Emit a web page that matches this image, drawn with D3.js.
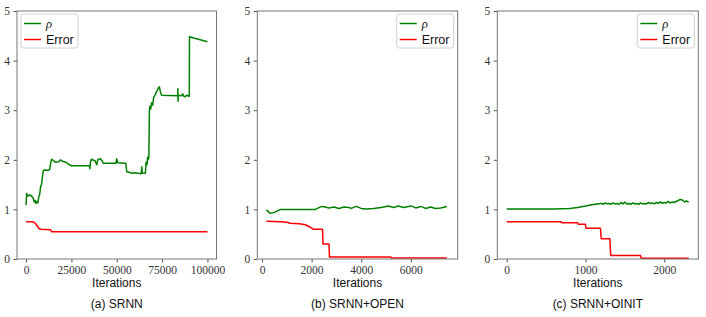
<!DOCTYPE html>
<html>
<head>
<meta charset="utf-8">
<script src="https://cdn.jsdelivr.net/npm/d3@7"></script>
<style>
  body { margin: 0; background: #fff; }
  .lbl { font-family: "Liberation Sans", Arial, sans-serif; font-size: 12px; fill: #111; }
</style>
</head>
<body>
<svg id="chart" width="706" height="317"></svg>
<script>
// (a) SRNN
const rhoA = [
  [0, 1.09], [300, 1.32], [1000, 1.27], [2000, 1.29], [3000, 1.27], [4000, 1.22], [4500, 1.15],
  [5000, 1.18], [5500, 1.12], [6000, 1.16], [6500, 1.13], [7000, 1.25], [7500, 1.3], [8000, 1.45],
  [8500, 1.5], [9000, 1.65], [9500, 1.78], [10000, 1.8], [11000, 1.79], [12000, 1.79], [13000, 1.8],
  [13500, 1.92], [14000, 2.01], [15000, 1.99], [16000, 1.95], [18000, 1.96], [19000, 2.0],
  [20000, 1.97], [22000, 1.95], [24000, 1.9], [25000, 1.88], [35000, 1.88], [35200, 1.82],
  [35500, 1.95], [36000, 2.01], [38000, 1.98], [39000, 1.9], [39500, 2.0], [41000, 2.02],
  [42000, 1.97], [42500, 1.93], [44000, 1.93], [49500, 1.93], [50000, 2.02], [50500, 1.94],
  [55000, 1.93], [55500, 1.76], [57000, 1.75], [58000, 1.73], [60000, 1.74], [63500, 1.72],
  [63800, 1.86], [64100, 1.73], [65800, 1.73], [66200, 1.95], [66700, 1.9], [67000, 2.05],
  [67300, 2.0], [67700, 2.05], [68000, 3.0], [68300, 3.08], [68700, 3.02], [69200, 3.15],
  [69800, 3.1], [70300, 3.25], [71000, 3.3], [72000, 3.38], [73000, 3.45], [73500, 3.47],
  [74200, 3.35], [74800, 3.3], [83600, 3.29], [83700, 3.43], [83800, 3.18], [83900, 3.3],
  [86000, 3.29], [86400, 3.33], [87000, 3.28], [87700, 3.27], [88500, 3.3], [90000, 3.28],
  [90100, 4.48], [93000, 4.45], [100000, 4.38]
];
const errA = [
  [0, 0.75], [4000, 0.75], [5000, 0.72], [5500, 0.7], [7000, 0.62], [8000, 0.6], [13500, 0.59],
  [14000, 0.55], [100000, 0.55]
];

// (b) SRNN+OPEN
const rhoB = [
  [175, 0.99], [335, 0.92], [500, 0.94], [740, 1.0], [1500, 1.0], [2150, 1.0], [2400, 1.06],
  [2550, 1.05], [2700, 1.03], [2900, 1.05], [3100, 1.02], [3300, 1.05], [3500, 1.04], [3600, 1.02],
  [3800, 1.06], [4000, 1.02], [4200, 1.01], [4500, 1.02], [4800, 1.04], [5100, 1.07], [5300, 1.04],
  [5500, 1.07], [5700, 1.04], [6000, 1.07], [6200, 1.03], [6400, 1.06], [6600, 1.02], [6800, 1.05],
  [7000, 1.02], [7200, 1.03], [7450, 1.06]
];
const errB = [
  [175, 0.76], [740, 0.75], [1000, 0.74], [1140, 0.72], [1500, 0.71], [1750, 0.69], [1950, 0.64],
  [2070, 0.6], [2440, 0.6], [2460, 0.3], [2700, 0.3], [2720, 0.04], [5200, 0.04], [5220, 0.02],
  [7450, 0.02]
];

// (c) SRNN+OINIT
const rhoC = [
  [0, 1.01], [300, 1.01], [600, 1.01], [800, 1.02], [900, 1.04], [1000, 1.07], [1100, 1.1],
  [1150, 1.11], [1200, 1.12], [1225, 1.1], [1250, 1.13], [1275, 1.11], [1300, 1.12], [1325, 1.1],
  [1350, 1.13], [1375, 1.11], [1400, 1.12], [1425, 1.1], [1450, 1.14], [1475, 1.11], [1500, 1.15],
  [1525, 1.11], [1550, 1.12], [1575, 1.1], [1600, 1.13], [1625, 1.11], [1650, 1.12], [1675, 1.1],
  [1700, 1.13], [1725, 1.11], [1750, 1.12], [1775, 1.11], [1800, 1.14], [1825, 1.12], [1850, 1.13],
  [1875, 1.11], [1900, 1.14], [1925, 1.12], [1950, 1.15], [1975, 1.12], [2000, 1.14], [2025, 1.13],
  [2050, 1.16], [2075, 1.13], [2100, 1.15], [2125, 1.14], [2150, 1.16], [2180, 1.18], [2200, 1.2],
  [2230, 1.19], [2260, 1.15], [2280, 1.17], [2310, 1.15]
];
const errC = [
  [0, 0.75], [690, 0.75], [700, 0.73], [900, 0.73], [910, 0.7], [1000, 0.7], [1005, 0.62],
  [1190, 0.62], [1200, 0.41], [1310, 0.41], [1320, 0.07], [1700, 0.07], [1705, 0.015],
  [2310, 0.015]
];

const xTicksA = [0, 25000, 50000, 75000, 100000];
const xTicksB = [0, 2000, 4000, 6000];
const xTicksC = [0, 1000, 2000];
const yTicks = [0, 1, 2, 3, 4, 5];
const captions = ['(a) SRNN', '(b) SRNN+OPEN', '(c) SRNN+OINIT'];
const seriesNames = ['ρ', 'Error'];

const svg = d3.select('#chart');
const plotTop = 11, plotBottom = 259;
const serif = '"Liberation Serif", "DejaVu Serif", serif';

const panels = [
  { left: 17, right: 216.5, domain: [-5000, 105000], ticks: xTicksA, rho: rhoA, err: errA, legend: 'left' },
  { left: 257.3, right: 457.7, domain: [-190, 7890], ticks: xTicksB, rho: rhoB, err: errB, legend: 'right' },
  { left: 497.3, right: 698.3, domain: [-119, 2432], ticks: xTicksC, rho: rhoC, err: errC, legend: 'right' }
];

const colors = ['#008000', '#ff0000'];

function styleAxis(a) {
  a.select('.domain').remove();
  a.attr('font-family', serif).attr('font-size', 11.5);
  a.selectAll('.tick text').attr('fill', '#333');
  a.selectAll('.tick line').attr('stroke', '#555');
}

panels.forEach((p, i) => {
  const x = d3.scaleLinear().domain(p.domain).range([p.left, p.right]);
  const y = d3.scaleLinear().domain([0, 5]).range([plotBottom, plotTop]);
  const g = svg.append('g');

  // axes
  g.append('g')
   .attr('transform', `translate(0,${plotBottom})`)
   .call(d3.axisBottom(x).tickValues(p.ticks).tickFormat(d3.format('d')).tickSize(3.5).tickPadding(3.5))
   .call(styleAxis);
  g.append('g')
   .attr('transform', `translate(${p.left},0)`)
   .call(d3.axisLeft(y).tickValues(yTicks).tickFormat(d3.format('d')).tickSize(3.5).tickPadding(3.5))
   .call(styleAxis);

  // lines
  const line = d3.line().x(d => x(d[0])).y(d => y(d[1]));
  [p.rho, p.err].forEach((s, k) => {
    g.append('path')
     .datum(s)
     .attr('d', line)
     .attr('fill', 'none')
     .attr('stroke', colors[k])
     .attr('stroke-width', 1.5)
     .attr('stroke-linejoin', 'round');
  });

  // spines
  g.append('rect')
   .attr('x', p.left).attr('y', plotTop)
   .attr('width', p.right - p.left).attr('height', plotBottom - plotTop)
   .attr('fill', 'none').attr('stroke', '#777').attr('stroke-width', 1);

  // legend
  const lw = 57, lh = 34;
  const lx = p.legend === 'left' ? p.left + 4 : p.right - 4 - lw;
  const leg = g.append('g').attr('transform', `translate(${lx},14)`);
  leg.append('rect')
     .attr('width', lw).attr('height', lh).attr('rx', 2.5)
     .attr('fill', '#fff').attr('fill-opacity', 0.8)
     .attr('stroke', '#d0d0d0');
  seriesNames.forEach((name, k) => {
    const yy = 9.5 + k * 16;
    leg.append('line')
       .attr('x1', 3).attr('x2', 20).attr('y1', yy).attr('y2', yy)
       .attr('stroke', colors[k]).attr('stroke-width', 1.5);
    leg.append('text')
       .attr('x', 25).attr('y', yy + 4.5)
       .attr('class', 'lbl')
       .style('font-size', '12.5px')
       .style('font-family', k === 0 ? serif : null)
       .style('font-style', k === 0 ? 'italic' : null)
       .text(name);
  });

  const cx = (p.left + p.right) / 2;
  g.append('text').attr('class', 'lbl')
   .attr('x', cx).attr('y', 287).attr('text-anchor', 'middle')
   .text('Iterations');
  g.append('text').attr('class', 'lbl')
   .attr('x', cx).attr('y', 307.5).attr('text-anchor', 'middle')
   .text(captions[i]);
});
</script>
</body>
</html>
